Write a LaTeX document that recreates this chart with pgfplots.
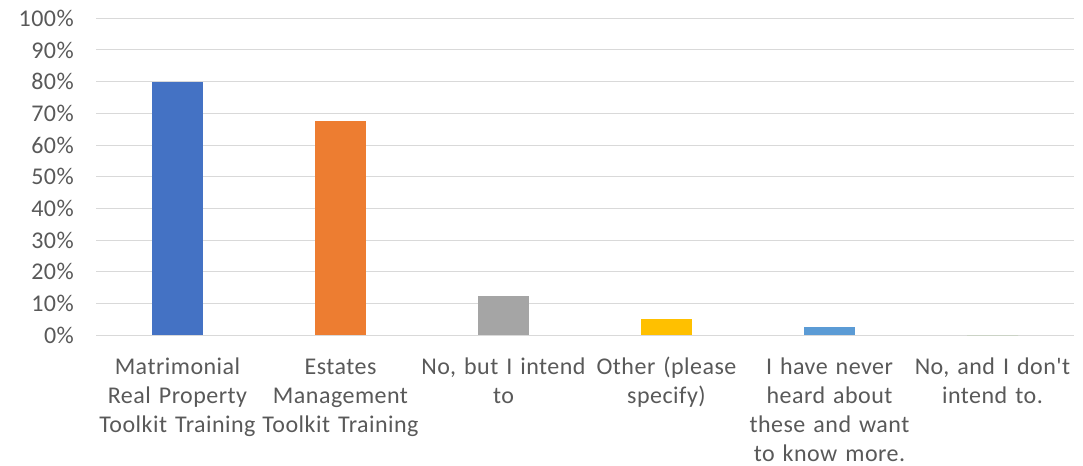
\documentclass[border=0pt]{standalone}
\usepackage{pgfplots}
\pgfplotsset{compat=1.18}
\usepackage{fontspec}
\setmainfont{Carlito}
\newfontfamily\lab[LetterSpace=2]{Carlito}
\definecolor{txt}{HTML}{595959}
\definecolor{gridc}{HTML}{D9D9D9}
\definecolor{c1}{HTML}{4472C4}
\definecolor{c2}{HTML}{ED7D31}
\definecolor{c3}{HTML}{A5A5A5}
\definecolor{c4}{HTML}{FFC000}
\definecolor{c5}{HTML}{5B9BD5}
\definecolor{c6}{HTML}{70AD47}
\begin{document}
\begin{tikzpicture}
\path[use as bounding box] (0,0) rectangle (1083bp,466bp);
\begin{axis}[
  at={(96bp,130.7bp)}, anchor=south west,
  scale only axis, width=978bp, height=317bp,
  xmin=-0.5, xmax=5.5, ymin=0, ymax=100,
  ybar, bar width=51bp,
  axis line style={draw=none},
  major tick style={draw=none},
  ymajorgrids, major grid style={color=gridc, line width=1bp},
  ytick={0,10,...,100},
  yticklabels={0\%,10\%,20\%,30\%,40\%,50\%,60\%,70\%,80\%,90\%,100\%},
  xtick={0,1,2,3,4,5},
  xticklabels={{Matrimonial\\Real Property\\Toolkit Training},
               {Estates\\Management\\Toolkit Training},
               {No, but I intend\\to},
               {Other (please\\specify)},
               {I have never\\heard about\\these and want\\to know more.},
               {No, and I don{\char"27}t\\intend to.}},
  yticklabel style={font=\lab\fontsize{24bp}{28bp}\selectfont, text=txt, inner sep=0pt, anchor=east, xshift=-22bp},
  xticklabel style={font=\lab\fontsize{24bp}{29bp}\selectfont, text=txt, inner sep=0pt, text width=200bp, align=center, anchor=base, yshift=-34.5bp},
]
\addplot[fill=c1, draw=none, bar shift=0pt] coordinates {(0,80)};
\addplot[fill=c2, draw=none, bar shift=0pt] coordinates {(1,67.5)};
\addplot[fill=c3, draw=none, bar shift=0pt] coordinates {(2,12.5)};
\addplot[fill=c4, draw=none, bar shift=0pt] coordinates {(3,5)};
\addplot[fill=c5, draw=none, bar shift=0pt] coordinates {(4,2.5)};
\addplot[fill=c6, draw=none, bar shift=0pt] coordinates {(5,0)};
\end{axis}
\end{tikzpicture}
\end{document}
